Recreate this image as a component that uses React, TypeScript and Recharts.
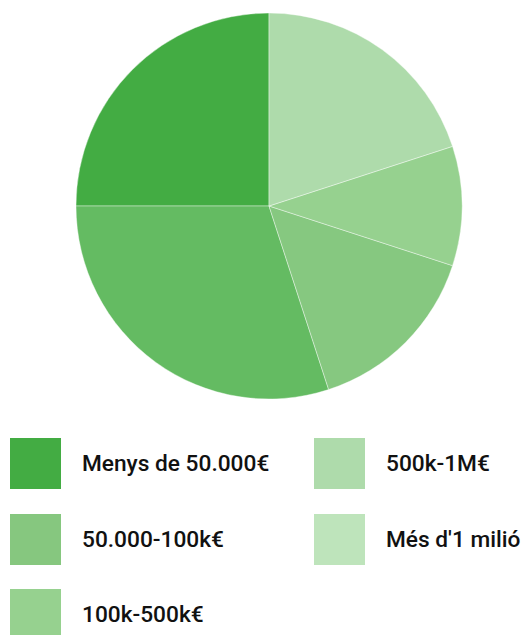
import React from "react";
import { PieChart, Pie, Cell } from "recharts";

const categories = [
  "Menys de 50.000€",
  "50.000-100k€",
  "100k-500k€",
  "500k-1M€",
  "Més d'1 milió",
];
const values = [25, 30, 15, 10, 20];
const sliceColors = ["#43ac43", "#64bb62", "#86c880", "#96d18f", "#aedbab"];
const legendColors = ["#43ac43", "#86c77f", "#96d18f", "#aedbab", "#bee4bb"];

const data = categories.map((name, i) => ({ name, value: values[i] }));

export default function App() {
  return (
    <div
      style={{
        position: "absolute",
        left: 0,
        top: 0,
        width: 531,
        height: 635,
        overflow: "hidden",
        background: "#fff",
        fontFamily: "Roboto, 'Noto Sans', sans-serif",
      }}
    >
      <div style={{ position: "absolute", left: 0, top: 0 }}>
        <PieChart
          width={531}
          height={410}
          margin={{ top: 0, right: 0, bottom: 0, left: 0 }}
        >
          <Pie
            data={data}
            dataKey="value"
            nameKey="name"
            cx={269}
            cy={206}
            outerRadius={193}
            startAngle={90}
            endAngle={450}
            stroke="#ffffff"
            strokeWidth={0.4}
            isAnimationActive={false}
          >
            {data.map((d, i) => (
              <Cell key={d.name} fill={sliceColors[i]} />
            ))}
          </Pie>
        </PieChart>
      </div>
      <div
        style={{
          position: "absolute",
          left: 10,
          top: 438,
          display: "grid",
          gridAutoFlow: "column",
          gridTemplateRows: "repeat(3, 75.5px)",
          gridTemplateColumns: "304px 217px",
        }}
      >
        {categories.map((name, i) => (
          <div
            key={name}
            style={{ display: "flex", alignItems: "flex-start", height: 75.5 }}
          >
            <div
              style={{
                width: 51,
                height: 51,
                background: legendColors[i],
                flex: "0 0 auto",
              }}
            />
            <div
              style={{
                marginLeft: 21,
                height: 51,
                lineHeight: "51px",
                fontSize: 22.7,
                fontWeight: 500,
                color: "#111",
                whiteSpace: "nowrap",
              }}
            >
              {name}
            </div>
          </div>
        ))}
      </div>
    </div>
  );
}
